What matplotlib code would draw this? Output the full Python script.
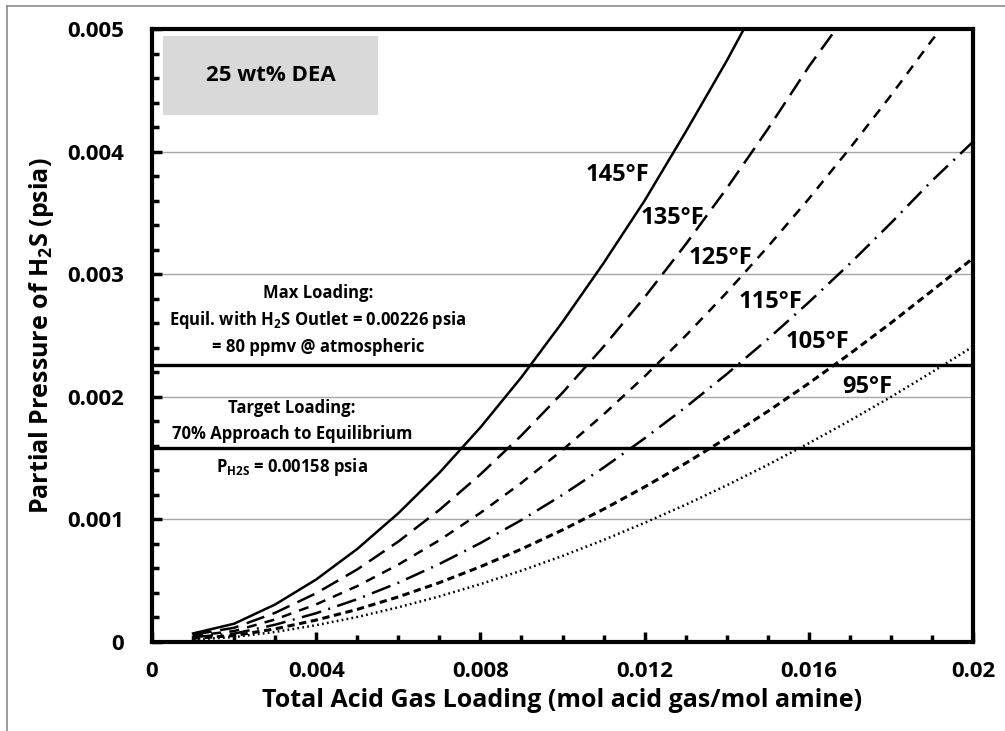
import numpy as np
import matplotlib
matplotlib.use("Agg")
import matplotlib.pyplot as plt
from matplotlib.patches import Rectangle
from matplotlib.lines import Line2D

plt.rcParams['font.family'] = ['Open Sans', 'DejaVu Sans']
plt.rcParams['font.weight'] = 'bold'
plt.rcParams['mathtext.fontset'] = 'custom'
plt.rcParams['mathtext.rm'] = 'Open Sans:bold'
plt.rcParams['mathtext.it'] = 'Open Sans:bold'
plt.rcParams['mathtext.bf'] = 'Open Sans:bold'
plt.rcParams['mathtext.default'] = 'bf'

# loading (mol acid gas / mol amine)
x_145 = [0.001, 0.002, 0.003, 0.004, 0.005, 0.006, 0.007, 0.008, 0.009, 0.010, 0.011, 0.012, 0.013, 0.014, 0.0145]
p_145 = [0.00007, 0.000149, 0.000306, 0.00051, 0.000759, 0.00105, 0.00138, 0.00175, 0.00216, 0.00261, 0.00309, 0.0036, 0.00416, 0.00474, 0.00505]

x_135 = [0.001, 0.002, 0.003, 0.004, 0.005, 0.006, 0.007, 0.008, 0.009, 0.010, 0.011, 0.012, 0.013, 0.014, 0.015, 0.016, 0.0166]
p_135 = [0.00006, 0.000116, 0.000238, 0.000398, 0.000592, 0.000819, 0.001077, 0.001367, 0.001685, 0.002033, 0.002409, 0.002812, 0.003243, 0.0037, 0.004183, 0.004693, 0.00497]

x_125 = [0.001, 0.002, 0.003, 0.004, 0.005, 0.006, 0.007, 0.008, 0.009, 0.010, 0.011, 0.012, 0.013, 0.014, 0.015, 0.016, 0.017, 0.018, 0.019, 0.0192]
p_125 = [0.00005, 0.000089, 0.000184, 0.000307, 0.000456, 0.000631, 0.00083, 0.001053, 0.001298, 0.001566, 0.001856, 0.002166, 0.002498, 0.00285, 0.003223, 0.003615, 0.004027, 0.004458, 0.004909, 0.00499]

x_115 = [0.001, 0.002, 0.003, 0.004, 0.005, 0.006, 0.007, 0.008, 0.009, 0.010, 0.011, 0.012, 0.013, 0.014, 0.015, 0.016, 0.017, 0.018, 0.019, 0.020]
p_115 = [0.00004, 0.000068, 0.000141, 0.000235, 0.000349, 0.000483, 0.000636, 0.000807, 0.000995, 0.0012, 0.001422, 0.001661, 0.001915, 0.002185, 0.00247, 0.002771, 0.003086, 0.003417, 0.003762, 0.00408]

x_105 = [0.001, 0.002, 0.003, 0.004, 0.005, 0.006, 0.007, 0.008, 0.009, 0.010, 0.011, 0.012, 0.013, 0.014, 0.015, 0.016, 0.017, 0.018, 0.019, 0.020]
p_105 = [0.00003, 0.000052, 0.000107, 0.000179, 0.000266, 0.000368, 0.000484, 0.000614, 0.000758, 0.000914, 0.001083, 0.001265, 0.001458, 0.001664, 0.001881, 0.00211, 0.002351, 0.002602, 0.002865, 0.00313]

x_95 = [0.001, 0.002, 0.003, 0.004, 0.005, 0.006, 0.007, 0.008, 0.009, 0.010, 0.011, 0.012, 0.013, 0.014, 0.015, 0.016, 0.017, 0.018, 0.019, 0.020]
p_95 = [0.00002, 0.00004, 0.000082, 0.000137, 0.000204, 0.000283, 0.000372, 0.000472, 0.000582, 0.000702, 0.000832, 0.000972, 0.00112, 0.001278, 0.001445, 0.001621, 0.001806, 0.001999, 0.002201, 0.00241]

max_loading = 0.00226
target_loading = 0.00158

x_ticks = [0, 0.004, 0.008, 0.012, 0.016, 0.02]
x_ticklabels = ["0", "0.004", "0.008", "0.012", "0.016", "0.02"]
y_ticks = [0, 0.001, 0.002, 0.003, 0.004, 0.005]
y_ticklabels = ["0", "0.001", "0.002", "0.003", "0.004", "0.005"]

fig = plt.figure(figsize=(10.05, 7.31), dpi=100)
ax = fig.add_axes([152/1005, 89/731, 821/1005, 613/731])

# thin chart-area border (left and top visible)
fig.add_artist(Line2D([7/1005, 7/1005], [0, 1-6/731], color="#8c8c8c", lw=1.2))
fig.add_artist(Line2D([7/1005, 1], [1-6/731, 1-6/731], color="#8c8c8c", lw=1.2))

for y in y_ticks[1:-1]:
    ax.axhline(y, color="#a6a6a6", lw=1.0, zorder=0)

lw = 1.8
ax.plot(x_145, p_145, color="black", lw=lw, ls="-")
ax.plot(x_135, p_135, color="black", lw=lw, ls=(0, (7.5, 3.5)))
ax.plot(x_125, p_125, color="black", lw=lw, ls=(0, (4, 3.3)))
ax.plot(x_115, p_115, color="black", lw=lw, ls=(0, (8, 3, 0.8, 3)))
ax.plot(x_105, p_105, color="black", lw=2.2, ls=(0, (2.4, 1.5)))
ax.plot(x_95, p_95, color="black", lw=1.8, ls=(0, (0.7, 1.3)))

ax.axhline(max_loading, color="black", lw=2.4)
ax.axhline(target_loading, color="black", lw=2.4)

ax.set_xlim(0, 0.02)
ax.set_ylim(0, 0.005)
ax.set_xticks(x_ticks)
ax.set_xticklabels(x_ticklabels)
ax.set_yticks(y_ticks)
ax.set_yticklabels(y_ticklabels)
ax.set_xticks(np.arange(0, 0.0201, 0.001), minor=True)
ax.set_yticks(np.arange(0, 0.00501, 0.0002), minor=True)
ax.tick_params(which="both", direction="in", width=2.5, labelsize=16)
ax.tick_params(which="major", length=7)
ax.tick_params(which="minor", length=5)
ax.tick_params(axis="y", pad=20)
ax.tick_params(axis="x", pad=14)
for s in ax.spines.values():
    s.set_linewidth(3)

ax.set_xlabel("Total Acid Gas Loading (mol acid gas/mol amine)", fontsize=18, fontweight="bold", labelpad=4)
ax.set_ylabel("Partial Pressure of H$_2$S (psia)", fontsize=18, fontweight="bold", labelpad=8)

ax.add_patch(Rectangle((0.00027, 0.0043), 0.00523, 0.00064, facecolor="#d9d9d9", edgecolor="none", zorder=1))
ax.text(0.0029, 0.00462, "25 wt% DEA", ha="center", va="center", fontsize=16, fontweight="bold")

fs = 12
ax.text(0.00405, 0.00285, "Max Loading:", ha="center", va="center", fontsize=fs)
ax.text(0.00405, 0.00263, "Equil. with H$_2$S Outlet = 0.00226 psia", ha="center", va="center", fontsize=fs)
ax.text(0.00405, 0.00241, "= 80 ppmv @ atmospheric", ha="center", va="center", fontsize=fs)
ax.text(0.00341, 0.00191, "Target Loading:", ha="center", va="center", fontsize=fs)
ax.text(0.00341, 0.0017, "70% Approach to Equilibrium", ha="center", va="center", fontsize=fs)
ax.text(0.00341, 0.00143, "P$_{H2S}$ = 0.00158 psia", ha="center", va="center", fontsize=fs)

labels = ["145°F", "135°F", "125°F", "115°F", "105°F", "95°F"]
lx = [0.01135, 0.01267, 0.01384, 0.01506, 0.01622, 0.01742]
ly = [0.00381, 0.00346, 0.00313, 0.00277, 0.00245, 0.00208]
for t, a, b in zip(labels, lx, ly):
    ax.text(a, b, t, ha="center", va="center", fontsize=17, fontweight="bold")

fig.savefig("out.png", dpi=100)
